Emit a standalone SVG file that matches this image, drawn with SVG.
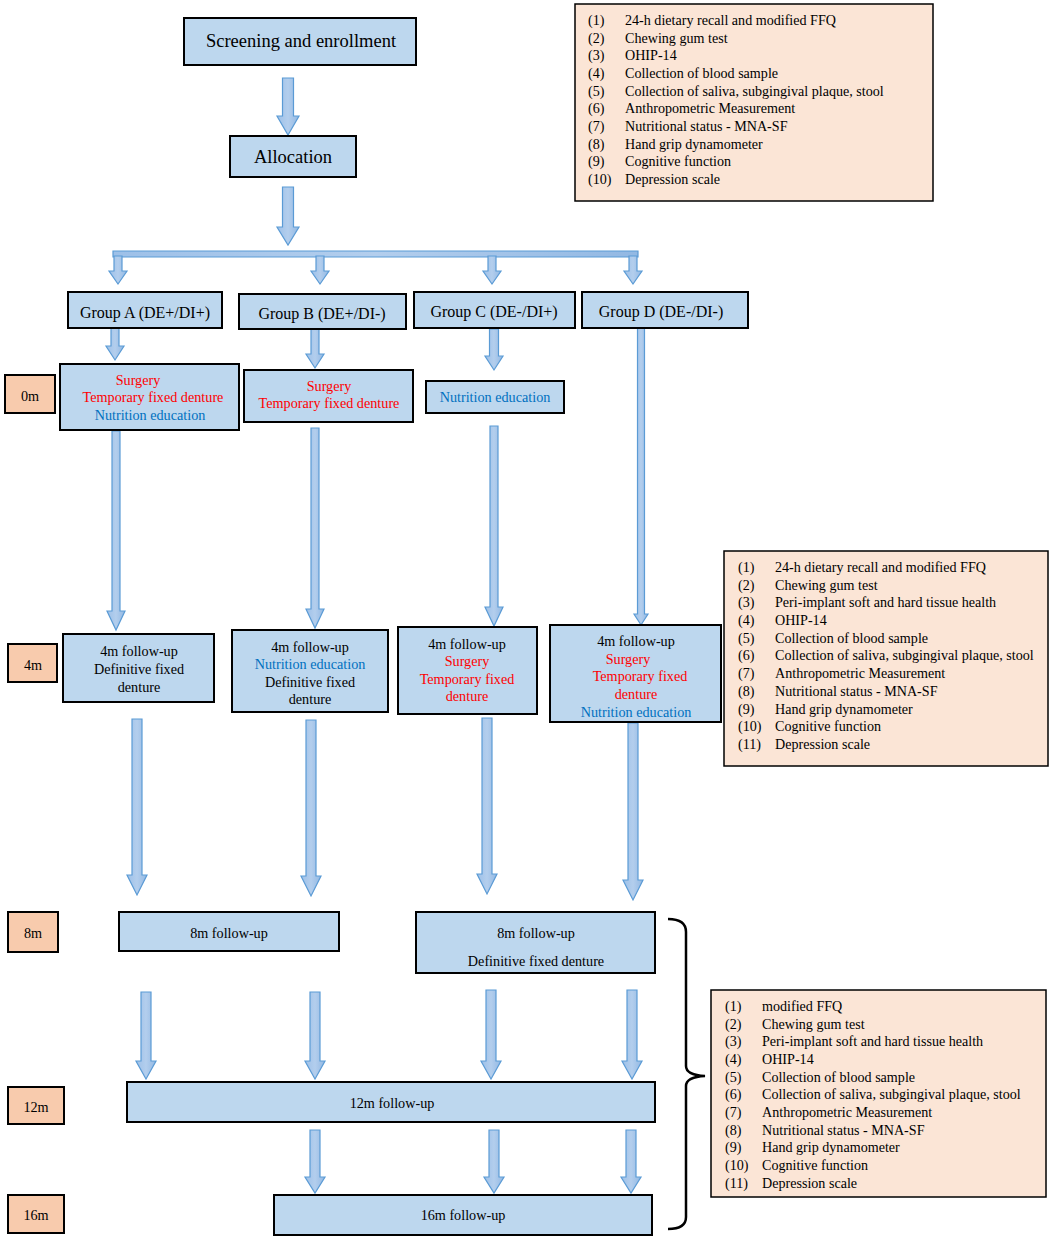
<svg xmlns="http://www.w3.org/2000/svg" width="1052" height="1240" viewBox="0 0 1052 1240">
<defs>
<linearGradient id="ag" x1="0" y1="0" x2="1" y2="0">
<stop offset="0" stop-color="#9DC0E8"/><stop offset="0.5" stop-color="#B3CEED"/><stop offset="1" stop-color="#92B8E3"/>
</linearGradient>
</defs>
<style>
text{font-family:"Liberation Serif","Times New Roman",serif;font-size:14.2px;fill:#000;text-anchor:middle}
.box{fill:#BDD7EE;stroke:#000;stroke-width:2}
.tm{fill:#F8CBAD;stroke:#000;stroke-width:2}
.lst{fill:#FBE5D6;stroke:#000;stroke-width:1.5}
.arr{fill:url(#ag);stroke:#5B9BD5;stroke-width:1.2}
.r{fill:#FF0000}
.b{fill:#0070C0}
.l{text-anchor:start;font-size:14.1px}
.big{font-size:18.5px}
.grp{font-size:16px}
</style>
<rect width="1052" height="1240" fill="#fff"/>

<g id="connectors">
<path class="arr" d="M282.5,78H293.5V116H299L288,135L277,116H282.5Z"/>
<path class="arr" d="M282.5,187H293.5V227H299L288,245L277,227H282.5Z"/>
<path class="arr" d="M113,251H638V257H113Z"/>
<path class="arr" d="M114,256H122V271H127L118,284L109,271H114Z"/>
<path class="arr" d="M316,256H324V271H329L320,284L311,271H316Z"/>
<path class="arr" d="M488,256H496V271H501L492,284L483,271H488Z"/>
<path class="arr" d="M629,256H637V271H642L633,284L624,271H629Z"/>
<path class="arr" d="M111,328H119V346H124L115,360L106,346H111Z"/>
<path class="arr" d="M311,329H319V354H324L315,368L306,354H311Z"/>
<path class="arr" d="M489.5,329H498.5V356H503L494,370L485,356H489.5Z"/>
<path class="arr" d="M637.5,328H644.5V614H648L641,625L634,614H637.5Z"/>
<path class="arr" d="M112,431H120V611H125L116,630L107,611H112Z"/>
<path class="arr" d="M311,428H319V609H324L315,628L306,609H311Z"/>
<path class="arr" d="M490,426H498V607H503L494,626L485,607H490Z"/>
<path class="arr" d="M132,719H142V875H147L137,895L127,875H132Z"/>
<path class="arr" d="M306,720H316V876H321L311,896L301,876H306Z"/>
<path class="arr" d="M482,718H492V874H497L487,894L477,874H482Z"/>
<path class="arr" d="M628,723H638V880H643L633,900L623,880H628Z"/>
<path class="arr" d="M141,992H151V1061H156L146,1079L136,1061H141Z"/>
<path class="arr" d="M310,992H320V1061H325L315,1079L305,1061H310Z"/>
<path class="arr" d="M486,990H496V1061H501L491,1079L481,1061H486Z"/>
<path class="arr" d="M627,990H637V1061H642L632,1079L622,1061H627Z"/>
<path class="arr" d="M310,1130H320V1177H325L315,1193L305,1177H310Z"/>
<path class="arr" d="M489,1130H499V1177H504L494,1193L484,1177H489Z"/>
<path class="arr" d="M626,1130H636V1177H641L631,1193L621,1177H626Z"/>
<path d="M668,919 Q686,919 686,932 V1066 Q686,1075 705,1076 Q686,1077 686,1086 V1217 Q686,1229 668,1229" fill="none" stroke="#000" stroke-width="2.5"/>
</g>

<g id="screening"><rect class="box" x="184" y="18" width="232" height="47"/><text class="big" x="301" y="47">Screening and enrollment</text></g>
<g id="allocation"><rect class="box" x="230" y="136" width="126" height="41"/><text class="big" x="293" y="163">Allocation</text></g>

<g id="list-baseline">
<rect class="lst" x="575" y="4" width="358" height="197"/>
<text class="l" x="588" y="25">(1)</text><text class="l" x="625" y="25">24-h dietary recall and modified FFQ</text>
<text class="l" x="588" y="43">(2)</text><text class="l" x="625" y="43">Chewing gum test</text>
<text class="l" x="588" y="60">(3)</text><text class="l" x="625" y="60">OHIP-14</text>
<text class="l" x="588" y="78">(4)</text><text class="l" x="625" y="78">Collection of blood sample</text>
<text class="l" x="588" y="96">(5)</text><text class="l" x="625" y="96">Collection of saliva, subgingival plaque, stool</text>
<text class="l" x="588" y="113">(6)</text><text class="l" x="625" y="113">Anthropometric Measurement</text>
<text class="l" x="588" y="131">(7)</text><text class="l" x="625" y="131">Nutritional status - MNA-SF</text>
<text class="l" x="588" y="149">(8)</text><text class="l" x="625" y="149">Hand grip dynamometer</text>
<text class="l" x="588" y="166">(9)</text><text class="l" x="625" y="166">Cognitive function</text>
<text class="l" x="588" y="184">(10)</text><text class="l" x="625" y="184">Depression scale</text>
</g>

<g id="groupA"><rect class="box" x="68" y="292" width="154" height="36"/><text class="grp" x="145" y="318">Group A (DE+/DI+)</text></g>
<g id="groupB"><rect class="box" x="239" y="294" width="167" height="35"/><text class="grp" x="322" y="319">Group B (DE+/DI-)</text></g>
<g id="groupC"><rect class="box" x="414" y="292" width="161" height="36"/><text class="grp" x="494" y="317">Group C (DE-/DI+)</text></g>
<g id="groupD"><rect class="box" x="582" y="292" width="166" height="36"/><text class="grp" x="661" y="317">Group D (DE-/DI-)</text></g>

<g id="t0m"><rect class="tm" x="5" y="375" width="50" height="38"/><text x="30" y="401">0m</text></g>
<g id="a0"><rect class="box" x="60" y="364" width="179" height="66"/>
<text class="r" x="138" y="385">Surgery</text><text class="r" x="153" y="402">Temporary fixed denture</text><text class="b" x="150" y="420">Nutrition education</text></g>
<g id="b0"><rect class="box" x="244" y="370" width="169" height="52"/>
<text class="r" x="329" y="391">Surgery</text><text class="r" x="329" y="408">Temporary fixed denture</text></g>
<g id="c0"><rect class="box" x="426" y="381" width="138" height="32"/><text class="b" x="495" y="402">Nutrition education</text></g>

<g id="t4m"><rect class="tm" x="8" y="644" width="49" height="38"/><text x="33" y="670">4m</text></g>
<g id="a4"><rect class="box" x="63" y="634" width="151" height="68"/>
<text x="139" y="656">4m follow-up</text><text x="139" y="674">Definitive fixed</text><text x="139" y="692">denture</text></g>
<g id="b4"><rect class="box" x="232" y="630" width="156" height="82"/>
<text x="310" y="652">4m follow-up</text><text class="b" x="310" y="669">Nutrition education</text><text x="310" y="687">Definitive fixed</text><text x="310" y="704">denture</text></g>
<g id="c4"><rect class="box" x="398" y="627" width="139" height="87"/>
<text x="467" y="649">4m follow-up</text><text class="r" x="467" y="666">Surgery</text><text class="r" x="467" y="684">Temporary fixed</text><text class="r" x="467" y="701">denture</text></g>
<g id="d4"><rect class="box" x="550" y="625" width="171" height="97"/>
<text x="636" y="646">4m follow-up</text><text class="r" x="628" y="664">Surgery</text><text class="r" x="640" y="681">Temporary fixed</text><text class="r" x="636" y="699">denture</text><text class="b" x="636" y="717">Nutrition education</text></g>

<g id="list-4m">
<rect class="lst" x="724" y="551" width="324" height="215"/>
<text class="l" x="738" y="572">(1)</text><text class="l" x="775" y="572">24-h dietary recall and modified FFQ</text>
<text class="l" x="738" y="590">(2)</text><text class="l" x="775" y="590">Chewing gum test</text>
<text class="l" x="738" y="607">(3)</text><text class="l" x="775" y="607">Peri-implant soft and hard tissue health</text>
<text class="l" x="738" y="625">(4)</text><text class="l" x="775" y="625">OHIP-14</text>
<text class="l" x="738" y="643">(5)</text><text class="l" x="775" y="643">Collection of blood sample</text>
<text class="l" x="738" y="660">(6)</text><text class="l" x="775" y="660">Collection of saliva, subgingival plaque, stool</text>
<text class="l" x="738" y="678">(7)</text><text class="l" x="775" y="678">Anthropometric Measurement</text>
<text class="l" x="738" y="696">(8)</text><text class="l" x="775" y="696">Nutritional status - MNA-SF</text>
<text class="l" x="738" y="714">(9)</text><text class="l" x="775" y="714">Hand grip dynamometer</text>
<text class="l" x="738" y="731">(10)</text><text class="l" x="775" y="731">Cognitive function</text>
<text class="l" x="738" y="749">(11)</text><text class="l" x="775" y="749">Depression scale</text>
</g>

<g id="t8m"><rect class="tm" x="8" y="912" width="50" height="40"/><text x="33" y="938">8m</text></g>
<g id="ab8"><rect class="box" x="119" y="912" width="220" height="39"/><text x="229" y="938">8m follow-up</text></g>
<g id="cd8"><rect class="box" x="416" y="912" width="239" height="61"/>
<text x="536" y="938">8m follow-up</text><text x="536" y="966">Definitive fixed denture</text></g>

<g id="t12m"><rect class="tm" x="8" y="1087" width="56" height="37"/><text x="36" y="1112">12m</text></g>
<g id="f12"><rect class="box" x="127" y="1082" width="528" height="40"/><text x="392" y="1108">12m follow-up</text></g>

<g id="t16m"><rect class="tm" x="8" y="1195" width="56" height="38"/><text x="36" y="1220">16m</text></g>
<g id="f16"><rect class="box" x="274" y="1195" width="378" height="40"/><text x="463" y="1220">16m follow-up</text></g>

<g id="list-followup">
<rect class="lst" x="711" y="990" width="335" height="207"/>
<text class="l" x="725" y="1011">(1)</text><text class="l" x="762" y="1011">modified FFQ</text>
<text class="l" x="725" y="1029">(2)</text><text class="l" x="762" y="1029">Chewing gum test</text>
<text class="l" x="725" y="1046">(3)</text><text class="l" x="762" y="1046">Peri-implant soft and hard tissue health</text>
<text class="l" x="725" y="1064">(4)</text><text class="l" x="762" y="1064">OHIP-14</text>
<text class="l" x="725" y="1082">(5)</text><text class="l" x="762" y="1082">Collection of blood sample</text>
<text class="l" x="725" y="1099">(6)</text><text class="l" x="762" y="1099">Collection of saliva, subgingival plaque, stool</text>
<text class="l" x="725" y="1117">(7)</text><text class="l" x="762" y="1117">Anthropometric Measurement</text>
<text class="l" x="725" y="1135">(8)</text><text class="l" x="762" y="1135">Nutritional status - MNA-SF</text>
<text class="l" x="725" y="1152">(9)</text><text class="l" x="762" y="1152">Hand grip dynamometer</text>
<text class="l" x="725" y="1170">(10)</text><text class="l" x="762" y="1170">Cognitive function</text>
<text class="l" x="725" y="1188">(11)</text><text class="l" x="762" y="1188">Depression scale</text>
</g>
</svg>
